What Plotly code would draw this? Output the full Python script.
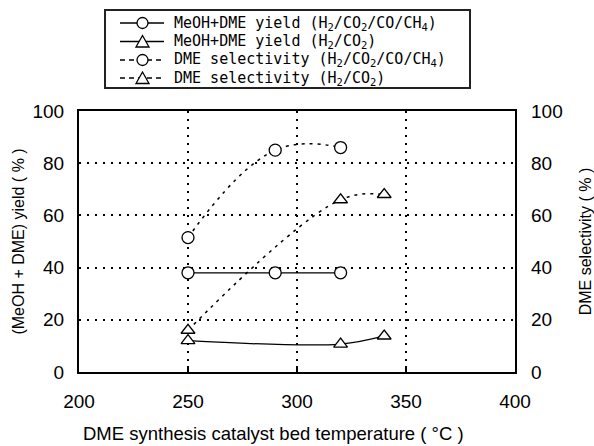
import plotly.graph_objects as go

# Data
temp_yield_mix = [250, 290, 320]
yield_mix = [38, 38, 38]
temp_yield_h2co2 = [250, 320, 340]
yield_h2co2 = [12, 10.7, 13.8]
temp_sel_mix = [250, 290, 320]
sel_mix = [51.5, 85, 86]
temp_sel_h2co2 = [250, 320, 340]
sel_h2co2 = [16, 66, 68]

names = [
    "MeOH+DME yield (H<sub>2</sub>/CO<sub>2</sub>/CO/CH<sub>4</sub>)",
    "MeOH+DME yield (H<sub>2</sub>/CO<sub>2</sub>)",
    "DME selectivity (H<sub>2</sub>/CO<sub>2</sub>/CO/CH<sub>4</sub>)",
    "DME selectivity (H<sub>2</sub>/CO<sub>2</sub>)",
]

x_ticks = [200, 250, 300, 350, 400]
y_ticks = [0, 20, 40, 60, 80, 100]
x_title = "DME synthesis catalyst bed temperature ( °C )"

W, H = 594, 446
L, R, T, B = 79, 79, 111, 74
PW, PH = W - L - R, H - T - B


def px(xp):
    return (xp - L) / PW


def py(yp):
    return (H - B - yp) / PH


marker_circle = dict(symbol="circle", size=12, color="white", line=dict(width=1.3, color="black"))
marker_tri = dict(symbol="triangle-up", size=12, color="white", line=dict(width=1.3, color="black"))
sel_line = dict(color="black", width=1.5, dash="3px,5px", shape="spline")

fig = go.Figure()
fig.add_trace(go.Scatter(x=temp_yield_mix, y=yield_mix, name=names[0], mode="lines+markers",
                         line=dict(color="black", width=1.3), marker=marker_circle))
fig.add_trace(go.Scatter(x=temp_yield_h2co2, y=yield_h2co2, name=names[1], mode="lines+markers",
                         line=dict(color="black", width=1.3, shape="spline"), marker=marker_tri))
fig.add_trace(go.Scatter(x=temp_sel_mix, y=sel_mix, name=names[2], mode="lines+markers", yaxis="y2",
                         line=dict(sel_line, smoothing=1.2), marker=marker_circle))
fig.add_trace(go.Scatter(x=temp_sel_h2co2, y=sel_h2co2, name=names[3], mode="lines+markers", yaxis="y2",
                         line=dict(sel_line, smoothing=1.1), marker=marker_tri))

sans = "Liberation Sans, Arial, sans-serif"
tickfont = dict(family=sans, size=19, color="black")
titlefont = dict(family=sans, size=16, color="black")

# ---- hand-drawn legend box (paper coordinates) ----
shapes = []
annotations = []
shapes.append(dict(type="rect", xref="paper", yref="paper", x0=px(105), x1=px(470), y0=py(88), y1=py(10),
                   line=dict(color="#222", width=2), fillcolor="white", layer="above"))
rows_y = [23, 41.5, 60, 78]
symbols = ["circle", "triangle", "circle", "triangle"]
dashes = ["solid", "solid", "5px,4px", "5px,4px"]
for name, ry, sym, dash in zip(names, rows_y, symbols, dashes):
    shapes.append(dict(type="line", xref="paper", yref="paper", x0=px(120), x1=px(164), y0=py(ry), y1=py(ry),
                       line=dict(color="black", width=1.5, dash=dash), layer="above"))
    cx, r = 142.5, 5.5
    if sym == "circle":
        shapes.append(dict(type="circle", xref="paper", yref="paper", x0=px(cx - r), x1=px(cx + r),
                           y0=py(ry + r), y1=py(ry - r), line=dict(color="black", width=1.3),
                           fillcolor="white", layer="above"))
    else:
        path = "M {:.5f},{:.5f} L {:.5f},{:.5f} L {:.5f},{:.5f} Z".format(
            px(cx - 6.5), py(ry + 5.5), px(cx + 6.5), py(ry + 5.5), px(cx), py(ry - 6))
        shapes.append(dict(type="path", xref="paper", yref="paper", path=path,
                           line=dict(color="black", width=1.3), fillcolor="white", layer="above"))
    annotations.append(dict(text=name, xref="paper", yref="paper", x=px(172), y=py(ry),
                            xanchor="left", yanchor="middle", showarrow=False,
                            font=dict(family="DejaVu Sans Mono, monospace", size=15, color="black")))

# x-axis title placed as in the reference (left of plot centre)
annotations.append(dict(text=x_title, xref="paper", yref="paper", x=px(273), y=py(433),
                        xanchor="center", yanchor="middle", showarrow=False,
                        font=dict(family=sans, size=18.5, color="black")))

fig.update_layout(
    width=W, height=H,
    margin=dict(l=L, r=R, t=T, b=B),
    paper_bgcolor="white", plot_bgcolor="white",
    showlegend=False,
    shapes=shapes, annotations=annotations,
    xaxis=dict(
        range=[200, 400], tickvals=x_ticks, ticktext=[str(v) for v in x_ticks],
        showline=True, linecolor="black", linewidth=2, mirror=True,
        ticks="inside", ticklen=6, tickwidth=2, tickcolor="black",
        showgrid=True, gridcolor="black", gridwidth=2, griddash="2px,6px",
        zeroline=False, tickfont=tickfont, ticklabelstandoff=11, automargin=False,
    ),
    yaxis=dict(
        range=[0, 100], tickvals=y_ticks, ticktext=[str(v) for v in y_ticks],
        showline=True, linecolor="black", linewidth=2, mirror=True,
        ticks="", showgrid=True, gridcolor="black", gridwidth=2, griddash="2px,6px",
        zeroline=False, tickfont=tickfont, ticklabelstandoff=9, automargin=False,
        title=dict(text="(MeOH + DME) yield ( % )", font=titlefont, standoff=4),
    ),
    yaxis2=dict(
        range=[0, 100], tickvals=y_ticks, ticktext=[str(v) for v in y_ticks],
        overlaying="y", side="right", showgrid=False, zeroline=False,
        ticks="", tickfont=tickfont, ticklabelstandoff=15, automargin=False,
        title=dict(text="DME selectivity ( % )", font=titlefont, standoff=19),
    ),
)

fig.write_html("out.html")
